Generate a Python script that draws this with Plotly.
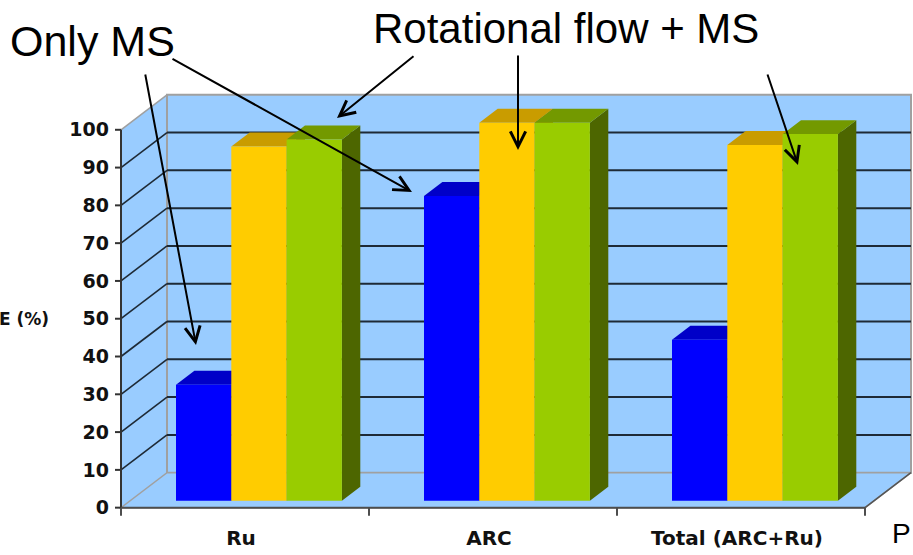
import plotly.graph_objects as go

# ---- data -------------------------------------------------------------
categories = ["Ru", "ARC", "Total (ARC+Ru)"]
only_ms = [30.7, 80.6, 42.6]
rot_ms_a = [93.7, 100.0, 94.1]
rot_ms_b = [95.6, 100.0, 97.0]
y_ticks = list(range(0, 101, 10))

# front / top / side colours per series
series = [
    (only_ms, "#0000FF", "#0000C8", "#000099"),
    (rot_ms_a, "#FFCC00", "#C99C00", "#997700"),
    (rot_ms_b, "#99CC00", "#739900", "#4D6600"),
]

# ---- geometry of the pseudo-3D box ------------------------------------
W, H = 913, 555
ML, MR, MT, MB = 110, 1, 92, 36
Y_MIN, Y_MAX = -3, 110
PX_PER_UNIT = (H - MT - MB) / (Y_MAX - Y_MIN)
Y0_PX = MT + Y_MAX * PX_PER_UNIT

X_FRONT_L, X_FRONT_R = 121, 865
DEPTH_DX = 46
DEPTH_DY = 35 / PX_PER_UNIT
CAT_W = 248
GROUP_PAD = 55
BAR_W = 55.3
BAR_Z0, BAR_Z1 = 0.2, 0.6          # depth of bar front / back planes
BASE = BAR_Z0 * DEPTH_DY
BAR_DX = (BAR_Z1 - BAR_Z0) * DEPTH_DX
BAR_DY = (BAR_Z1 - BAR_Z0) * DEPTH_DY

WALL = "#99CCFF"
EDGE = "#A0A0A0"
GRID = "#1E2A36"
AXIS = "#333333"


def px_to_val(py):
    return (Y0_PX - py) / PX_PER_UNIT


def paper_x(px):
    return (px - ML) / (W - ML - MR)


def paper_y(py):
    return (H - MB - py) / (H - MT - MB)


def poly(pts):
    return "M " + " L ".join(f"{x:.2f},{y:.3f}" for x, y in pts) + " Z"


shapes = []
bx0, bx1 = X_FRONT_L + DEPTH_DX, X_FRONT_R + DEPTH_DX

# walls and floor
shapes.append(dict(type="path", layer="below", line=dict(width=0), fillcolor=WALL,
                   path=poly([(X_FRONT_L, 0), (bx0, DEPTH_DY), (bx0, 100 + DEPTH_DY), (X_FRONT_L, 100)])))
shapes.append(dict(type="rect", layer="below", x0=bx0, x1=bx1, y0=DEPTH_DY, y1=100 + DEPTH_DY,
                   fillcolor=WALL, line=dict(color=EDGE, width=2)))
shapes.append(dict(type="path", layer="below", fillcolor=WALL, line=dict(color=EDGE, width=1.5),
                   path=poly([(X_FRONT_L, 0), (X_FRONT_R, 0), (bx1, DEPTH_DY), (bx0, DEPTH_DY)])))
shapes.append(dict(type="line", layer="below", x0=X_FRONT_L, y0=100, x1=bx0, y1=100 + DEPTH_DY,
                   line=dict(color=EDGE, width=1.5)))
shapes.append(dict(type="line", layer="below", x0=X_FRONT_R, y0=0, x1=bx1, y1=DEPTH_DY,
                   line=dict(color="#555555", width=1.5)))

# gridlines on side and back wall
for v in y_ticks[1:-1]:
    shapes.append(dict(type="line", layer="below", x0=X_FRONT_L, y0=v, x1=bx0, y1=v + DEPTH_DY,
                       line=dict(color=GRID, width=1.6)))
    shapes.append(dict(type="line", layer="below", x0=bx0, y0=v + DEPTH_DY, x1=bx1, y1=v + DEPTH_DY,
                       line=dict(color=GRID, width=2)))

# bar tops and right-hand sides
bar_x = []
for j, (vals, front, top, side) in enumerate(series):
    xs = []
    for i, v in enumerate(vals):
        xl = X_FRONT_L + CAT_W * i + GROUP_PAD + BAR_W * j
        xr = xl + BAR_W
        t = v + BASE
        xs.append(xl + BAR_W / 2)
        shapes.append(dict(type="path", layer="below", fillcolor=side, line=dict(width=0),
                           path=poly([(xr, BASE), (xr + BAR_DX, BASE + BAR_DY),
                                      (xr + BAR_DX, t + BAR_DY), (xr, t)])))
        shapes.append(dict(type="path", layer="below", fillcolor=top, line=dict(width=0),
                           path=poly([(xl, t), (xr, t), (xr + BAR_DX, t + BAR_DY), (xl + BAR_DX, t + BAR_DY)])))
    bar_x.append(xs)

# front axes and their tick marks
shapes.append(dict(type="line", x0=X_FRONT_L, y0=0, x1=X_FRONT_L, y1=100, line=dict(color=AXIS, width=2)))
for v in y_ticks:
    shapes.append(dict(type="line", x0=X_FRONT_L - 6, y0=v, x1=X_FRONT_L, y1=v, line=dict(color=AXIS, width=2)))
shapes.append(dict(type="line", x0=X_FRONT_L, y0=0, x1=X_FRONT_R, y1=0, line=dict(color="#4D4D4D", width=2)))
for i in range(len(categories) + 1):
    xb = X_FRONT_L + CAT_W * i
    shapes.append(dict(type="line", x0=xb, y0=0, x1=xb, y1=-8 / PX_PER_UNIT,
                       line=dict(color="#4D4D4D", width=2)))

fig = go.Figure()
for j, (vals, front, top, side) in enumerate(series):
    fig.add_trace(go.Bar(x=bar_x[j], y=vals, base=BASE, width=BAR_W,
                         marker=dict(color=front, line=dict(width=0)), hoverinfo="skip"))

annotations = [
    dict(text="Only MS", x=paper_x(92), y=paper_y(41), xref="paper", yref="paper",
         xanchor="center", yanchor="middle",
         showarrow=False, font=dict(family="Liberation Sans", size=43, color="black")),
    dict(text="Rotational flow + MS", x=paper_x(566), y=paper_y(28), xref="paper", yref="paper",
         xanchor="center", yanchor="middle",
         showarrow=False, font=dict(family="Liberation Sans", size=42, color="black")),
    dict(text="E (%)", x=paper_x(51), y=paper_y(319), xref="paper", yref="paper",
         xanchor="right", yanchor="middle",
         showarrow=False, font=dict(family="DejaVu Sans", size=17, color="#111111", weight="bold")),
    dict(text="P", x=paper_x(890), y=paper_y(533), xref="paper", yref="paper",
         xanchor="left", yanchor="middle",
         showarrow=False, font=dict(family="Liberation Sans", size=28, color="black")),
]

arrows = [
    ((145, 73), (196, 345)),
    ((171, 58), (412, 192)),
    ((415, 55), (337, 118)),
    ((518, 54), (518, 150)),
    ((767, 73), (798, 165)),
]
for (tx, ty), (hx, hy) in arrows:
    annotations.append(dict(text="", x=hx, y=px_to_val(hy), xref="x", yref="y",
                            ax=tx - hx, ay=ty - hy, showarrow=True, arrowhead=5,
                            arrowsize=1.5, arrowwidth=2, arrowcolor="black", standoff=0))

fig.update_layout(
    width=W, height=H,
    margin=dict(l=ML, r=MR, t=MT, b=MB),
    paper_bgcolor="white", plot_bgcolor="white",
    barmode="overlay", showlegend=False,
    shapes=shapes, annotations=annotations,
    xaxis=dict(range=[ML, W - MR], showgrid=False, zeroline=False, showline=False, ticks="",
               tickmode="array",
               tickvals=[X_FRONT_L + CAT_W * (i + 0.5) - 4 for i in range(len(categories))],
               ticktext=categories, ticklabelstandoff=5,
               tickfont=dict(family="DejaVu Sans", size=20, color="#111111", weight="bold")),
    yaxis=dict(range=[Y_MIN, Y_MAX], showgrid=False, zeroline=False, showline=False, ticks="",
               tickmode="array", tickvals=y_ticks,
               tickfont=dict(family="DejaVu Sans", size=19, color="#111111", weight="bold")),
)

fig.write_html("out.html")
